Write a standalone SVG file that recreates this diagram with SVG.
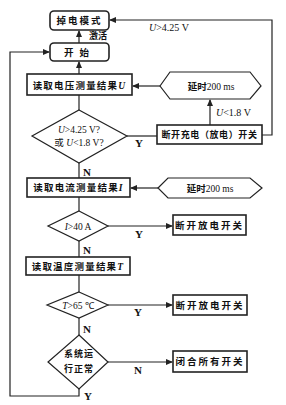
<svg xmlns="http://www.w3.org/2000/svg" width="286" height="405" viewBox="0 0 286 405">
<style>
.box{fill:#fff;stroke:#222;stroke-width:1.6}
.shape{fill:#fff;stroke:#222;stroke-width:1.2}
.ln{fill:none;stroke:#222;stroke-width:1.2}
.cn{font-family:"Noto Sans CJK SC","Noto Sans",sans-serif;font-size:9.5px;fill:#111;text-anchor:middle;font-weight:bold}
.lt{font-family:"Liberation Serif",serif;font-size:10px;fill:#111}
.lb{font-family:"Liberation Serif",serif;font-size:11px;fill:#111;font-weight:bold}
</style>
<defs>
<marker id="ar" markerWidth="7" markerHeight="6" refX="6" refY="3" orient="auto" markerUnits="userSpaceOnUse">
<path d="M0,0 L7,3 L0,6 Z" fill="#222"/>
</marker>
</defs>
<rect width="286" height="405" fill="#fff"/>
<g id="connectors">
<path class="ln" d="M79,43 V31" marker-end="url(#ar)"/>
<path class="ln" d="M262,135 H272 V20 H110" marker-end="url(#ar)"/>
<path class="ln" d="M79,74 V62" marker-end="url(#ar)"/>
<path class="ln" d="M160,86 H133" marker-end="url(#ar)"/>
<path class="ln" d="M210,125 V100" marker-end="url(#ar)"/>
<path class="ln" d="M79,95 V110"/>
<path class="ln" d="M127,136 H157"/>
<path class="ln" d="M79,163 V178"/>
<path class="ln" d="M158,188 H131" marker-end="url(#ar)"/>
<path class="ln" d="M79,197 V211"/>
<path class="ln" d="M108,226 H172" marker-end="url(#ar)"/>
<path class="ln" d="M79,241 V257"/>
<path class="ln" d="M79,275 V292"/>
<path class="ln" d="M108,305 H172" marker-end="url(#ar)"/>
<path class="ln" d="M79,318 V335"/>
<path class="ln" d="M108,362 H172" marker-end="url(#ar)"/>
<path class="ln" d="M79,389 V396 H10 V52 H49" marker-end="url(#ar)"/>
<text class="cn" x="98" y="39" style="font-size:9px">激活</text>
<text class="lt" x="149" y="31"><tspan font-style="italic">U</tspan>&gt;4.25 V</text>
<text class="lt" x="216" y="116"><tspan font-style="italic">U</tspan>&lt;1.8 V</text>
<text class="lb" x="135" y="147">Y</text>
<text class="lb" x="83" y="176">N</text>
<text class="lb" x="135" y="238">Y</text>
<text class="lb" x="83" y="254">N</text>
<text class="lb" x="134" y="316">Y</text>
<text class="lb" x="83" y="333">N</text>
<text class="lb" x="134" y="374">N</text>
<text class="lb" x="84" y="400">Y</text>
</g>
<g id="n-powerdown">
<rect class="box" x="50" y="11" width="59" height="19" rx="4"/>
<text class="cn" x="79.5" y="24" letter-spacing="2">掉电模式</text>
</g>
<g id="n-start">
<rect class="box" x="50" y="43" width="59" height="18" rx="4"/>
<text class="cn" x="79.5" y="55.5" letter-spacing="6">开始</text>
</g>
<g id="n-readU">
<rect class="box" x="27" y="74" width="105" height="21"/>
<text class="cn" x="79.5" y="88.5" letter-spacing="1.2">读取电压测量结果<tspan font-family="Liberation Serif" font-style="italic">U</tspan></text>
</g>
<g id="n-delay1">
<polygon class="shape" points="160,86 170,72 250,72 261,86 250,99 170,99"/>
<text class="cn" x="211" y="89.5">延时<tspan font-family="Liberation Serif" font-weight="normal">200 ms</tspan></text>
</g>
<g id="n-checkU">
<polygon class="shape" points="79,110 127,136 79,163 32,136"/>
<text class="lt" x="79" y="133" text-anchor="middle" style="font-size:9.5px"><tspan font-style="italic">U</tspan>&gt;4.25 V?</text>
<text class="lt" x="79" y="146" text-anchor="middle" style="font-size:9.5px"><tspan font-family="Noto Sans CJK SC">或</tspan> <tspan font-style="italic">U</tspan>&lt;1.8 V?</text>
</g>
<g id="n-cutoff">
<rect class="box" x="157" y="125" width="105" height="19"/>
<text class="cn" x="209.5" y="138" style="font-size:9px" letter-spacing="0.6">断开充电（放电）开关</text>
</g>
<g id="n-readI">
<rect class="box" x="27" y="178" width="103" height="19"/>
<text class="cn" x="78.5" y="191" letter-spacing="1.2">读取电流测量结果<tspan font-family="Liberation Serif" font-style="italic">I</tspan></text>
</g>
<g id="n-delay2">
<polygon class="shape" points="158,188 168,178 250,178 262,188 250,198 168,198"/>
<text class="cn" x="210" y="191.5">延时<tspan font-family="Liberation Serif" font-weight="normal">200 ms</tspan></text>
</g>
<g id="n-checkI">
<polygon class="shape" points="79,211 108,226 79,241 48,226"/>
<text class="lt" x="78" y="229.5" text-anchor="middle" style="font-size:9.5px"><tspan font-style="italic">I</tspan>&gt;40 A</text>
</g>
<g id="n-cut1">
<rect class="box" x="173" y="215" width="73" height="20"/>
<text class="cn" x="209.5" y="228.5" letter-spacing="2">断开放电开关</text>
</g>
<g id="n-readT">
<rect class="box" x="26" y="257" width="104" height="18"/>
<text class="cn" x="78" y="269.5" letter-spacing="1.2">读取温度测量结果<tspan font-family="Liberation Serif" font-style="italic">T</tspan></text>
</g>
<g id="n-checkT">
<polygon class="shape" points="79,292 108,305 79,318 47,305"/>
<text class="lt" x="78" y="308.5" text-anchor="middle" style="font-size:9.5px"><tspan font-style="italic">T</tspan>&gt;65 ℃</text>
</g>
<g id="n-cut2">
<rect class="box" x="173" y="295" width="74" height="20"/>
<text class="cn" x="210" y="308.5" letter-spacing="2">断开放电开关</text>
</g>
<g id="n-normal">
<polygon class="shape" points="79,335 108,362 79,389 48,362"/>
<text class="cn" x="79" y="357" style="font-size:9px" letter-spacing="1">系统运</text>
<text class="cn" x="79" y="372" style="font-size:9px" letter-spacing="1">行正常</text>
</g>
<g id="n-close">
<rect class="box" x="173" y="351" width="74" height="21"/>
<text class="cn" x="210" y="365" letter-spacing="2">闭合所有开关</text>
</g>
</svg>
